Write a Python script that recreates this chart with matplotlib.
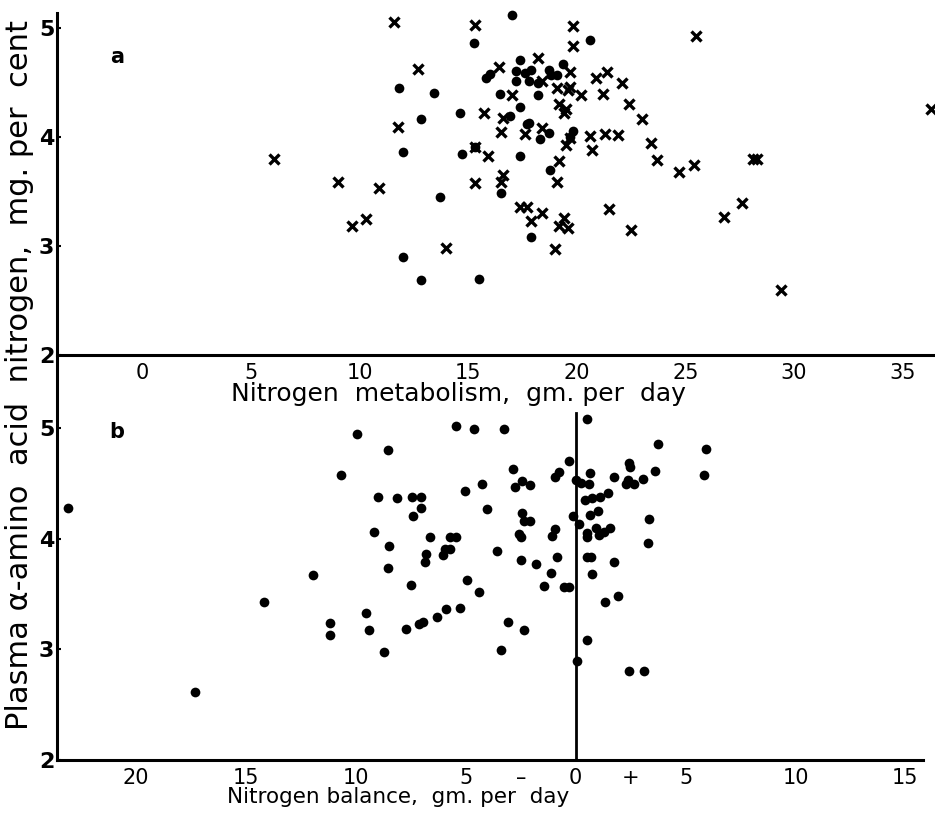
import matplotlib.pyplot as plt

# panel a: nitrogen metabolism (gm/day) vs plasma amino acid N (mg %)
a_dot_x = [11.8, 13.4, 14.6, 12.8, 12.0, 14.7, 13.7, 12.0, 12.8, 17.0, 15.25, 20.6,
           17.4, 17.2, 17.6, 17.9, 17.2, 17.8, 18.2, 18.7, 18.8, 19.1, 19.35, 15.8,
           16.0, 16.45, 18.2, 16.9, 17.4, 17.7, 17.8, 18.7, 18.3, 19.8, 15.3, 17.4,
           18.75, 16.5, 17.9, 15.5, 19.7]
a_dot_y = [4.45, 4.41, 4.22, 4.17, 3.86, 3.85, 3.45, 2.90, 2.69, 5.12, 4.86, 4.89,
           4.71, 4.61, 4.59, 4.62, 4.52, 4.52, 4.50, 4.62, 4.57, 4.57, 4.67, 4.54,
           4.58, 4.40, 4.39, 4.19, 4.28, 4.12, 4.13, 4.04, 3.98, 4.06, 3.91, 3.83,
           3.70, 3.49, 3.08, 2.70, 4.00]

a_cross_x = [11.57, 12.7, 11.77, 6.04, 9.0, 10.9, 9.66, 10.3, 13.96,
             15.3, 19.8, 19.8, 25.5, 18.2, 16.4, 19.7, 21.4, 20.9, 22.1, 18.4, 19.1,
             19.7, 19.6, 20.2, 21.2, 17.0, 22.4, 19.2, 19.5, 19.4, 15.7, 23.0, 16.6,
             16.5, 18.4, 17.6, 20.6, 21.3, 21.9, 19.7, 19.5, 20.7, 23.4, 23.7, 24.7,
             25.4, 28.1, 28.3, 15.3, 15.9, 19.2, 15.3, 16.6, 16.5, 19.1, 17.4, 17.7,
             18.4, 17.9, 19.4, 19.2, 19.6, 19.0, 21.5, 22.5, 26.8, 27.6, 29.4, 36.3]
a_cross_y = [5.06, 4.63, 4.09, 3.80, 3.59, 3.53, 3.18, 3.25, 2.98,
             5.03, 5.02, 4.84, 4.93, 4.73, 4.64, 4.60, 4.60, 4.54, 4.50, 4.52, 4.45,
             4.46, 4.43, 4.39, 4.40, 4.39, 4.30, 4.30, 4.26, 4.22, 4.22, 4.17, 4.18,
             4.05, 4.08, 4.03, 4.01, 4.03, 4.02, 3.99, 3.93, 3.88, 3.95, 3.79, 3.68,
             3.74, 3.80, 3.80, 3.91, 3.83, 3.78, 3.58, 3.65, 3.59, 3.59, 3.36, 3.36,
             3.30, 3.23, 3.26, 3.18, 3.17, 2.97, 3.34, 3.15, 3.27, 3.40, 2.60, 4.26]

# panel b: nitrogen balance (gm/day) vs plasma amino acid N (mg %)
b_x = [-23.1, -17.3, -14.2, -11.95, -11.2, -11.2, -10.7, -9.95, -9.55, -9.4, -9.2,
       -9.0, -8.55, -8.5, -8.55, -8.7, -8.15, -7.7, -7.5, -7.45, -7.4, -7.05, -7.05,
       -7.15, -6.95, -6.85, -6.8, -6.65, -6.3, -5.9, -6.05, -5.95, -5.7, -5.7, -5.45,
       -5.27, -5.45, -5.05, -4.95,
       -4.65, -3.27, 0.5, 3.73, 5.95, 5.82, 3.6, -0.32, -2.86, -0.77, -0.95, -4.27,
       -2.77, -2.45, -2.09, 0.0, 0.23, 0.64, 0.6, 1.73, 2.42, 2.45, 2.27, 2.36, 2.64,
       3.05, -4.05, -2.45, -2.36, -2.09, -0.14, 0.14, 0.41, 0.73, 1.09, 1.45, 0.64,
       1.0, 3.32, -2.59, -2.5, -0.95, -1.09, 0.5, 0.5, 0.91, 1.05, 1.27, 1.55, 3.27,
       -3.59, -2.5, -1.82, -0.86, -1.14, 0.5, 0.68, 0.73, 1.73, -4.41, -1.45, -0.55,
       -0.32, 1.32, 1.91, -3.09, -2.36, -3.41, 0.5, 0.05, 2.41, 3.09]
b_y = [4.28, 2.61, 3.43, 3.67, 3.24, 3.13, 4.57, 4.94, 3.33, 3.17, 4.06,
       4.38, 4.80, 3.93, 3.73, 2.98, 4.37, 3.18, 3.58, 4.38, 4.20, 4.38, 4.28,
       3.23, 3.25, 3.79, 3.86, 4.01, 3.29, 3.36, 3.85, 3.91, 3.91, 4.01, 4.01,
       3.37, 5.02, 4.43, 3.63,
       4.99, 4.99, 5.08, 4.85, 4.81, 4.57, 4.61, 4.70, 4.63, 4.60, 4.56, 4.49,
       4.47, 4.52, 4.48, 4.53, 4.50, 4.59, 4.49, 4.56, 4.68, 4.65, 4.49, 4.53, 4.49,
       4.54, 4.27, 4.23, 4.16, 4.16, 4.20, 4.13, 4.35, 4.37, 4.38, 4.41, 4.21,
       4.25, 4.18, 4.04, 4.01, 4.09, 4.02, 4.05, 4.01, 4.10, 4.03, 4.06, 4.10, 3.96,
       3.89, 3.81, 3.77, 3.83, 3.69, 3.83, 3.83, 3.68, 3.79, 3.52, 3.57, 3.56,
       3.56, 3.43, 3.48, 3.25, 3.17, 2.99, 3.08, 2.89, 2.80, 2.80]

a_xticks = [0, 5, 10, 15, 20, 25, 30, 35]
b_xticks = [-20, -15, -10, -5, -2.5, 0, 2.5, 5, 10, 15]
b_xticklabels = ['20', '15', '10', '5', '\u2013', '0', '+', '5', '10', '15']
yticks = [2, 3, 4, 5]

fig = plt.figure(figsize=(9.35, 8.13), dpi=100)
W, H = 935, 813

def box(l, t, r, b):
    return [l / W, 1 - b / H, (r - l) / W, (b - t) / H]

ax1 = fig.add_axes(box(57, 13, 935, 355))
ax2 = fig.add_axes(box(57, 357, 923, 760))

ax1.plot(a_dot_x, a_dot_y, 'o', color='black', ms=7, mec='none', clip_on=False)
ax1.plot(a_cross_x, a_cross_y, 'x', color='black', ms=7.5, mew=2.4, clip_on=False)
ax1.set_xlim(-3.95, 36.5)
ax1.set_ylim(2, 5.14)
ax1.set_xticks(a_xticks)

ax2.plot(b_x, b_y, 'o', color='black', ms=7, mec='none', clip_on=False)
ax2.axvline(0, ymin=0, ymax=(5.13 - 2) / (5.64 - 2), color='black', lw=2)
ax2.set_xlim(-23.6, 15.8)
ax2.set_ylim(2, 5.64)
ax2.set_xticks(b_xticks)
ax2.set_xticklabels(b_xticklabels)

for ax in (ax1, ax2):
    ax.spines['top'].set_visible(False)
    ax.spines['right'].set_visible(False)
    ax.spines['left'].set_linewidth(2.2)
    ax.spines['bottom'].set_linewidth(2.2)
    ax.set_yticks(yticks)
    ax.set_yticklabels([str(v) for v in yticks], fontsize=16, fontweight='bold')
    ax.tick_params(axis='y', direction='in', length=3, width=1.5, pad=2)
    ax.tick_params(axis='x', length=0, labelsize=15, pad=6)
    ax.patch.set_alpha(0)

fig.text(117 / W, 1 - 57 / H, 'a', fontsize=15, fontweight='bold', ha='center', va='center')
fig.text(117 / W, 1 - 432 / H, 'b', fontsize=15, fontweight='bold', ha='center', va='center')

fig.text(458 / W, 1 - 394 / H, 'Nitrogen  metabolism,  gm. per  day', fontsize=18,
         ha='center', va='center')
fig.text(398 / W, 1 - 797 / H, 'Nitrogen balance,  gm. per  day', fontsize=15.5,
         ha='center', va='center')
fig.text(20 / W, 1 - 375 / H, 'Plasma \u03b1-amino  acid  nitrogen,  mg. per  cent',
         fontsize=22, rotation=90, ha='center', va='center')

fig.savefig('out.png', dpi=100)
